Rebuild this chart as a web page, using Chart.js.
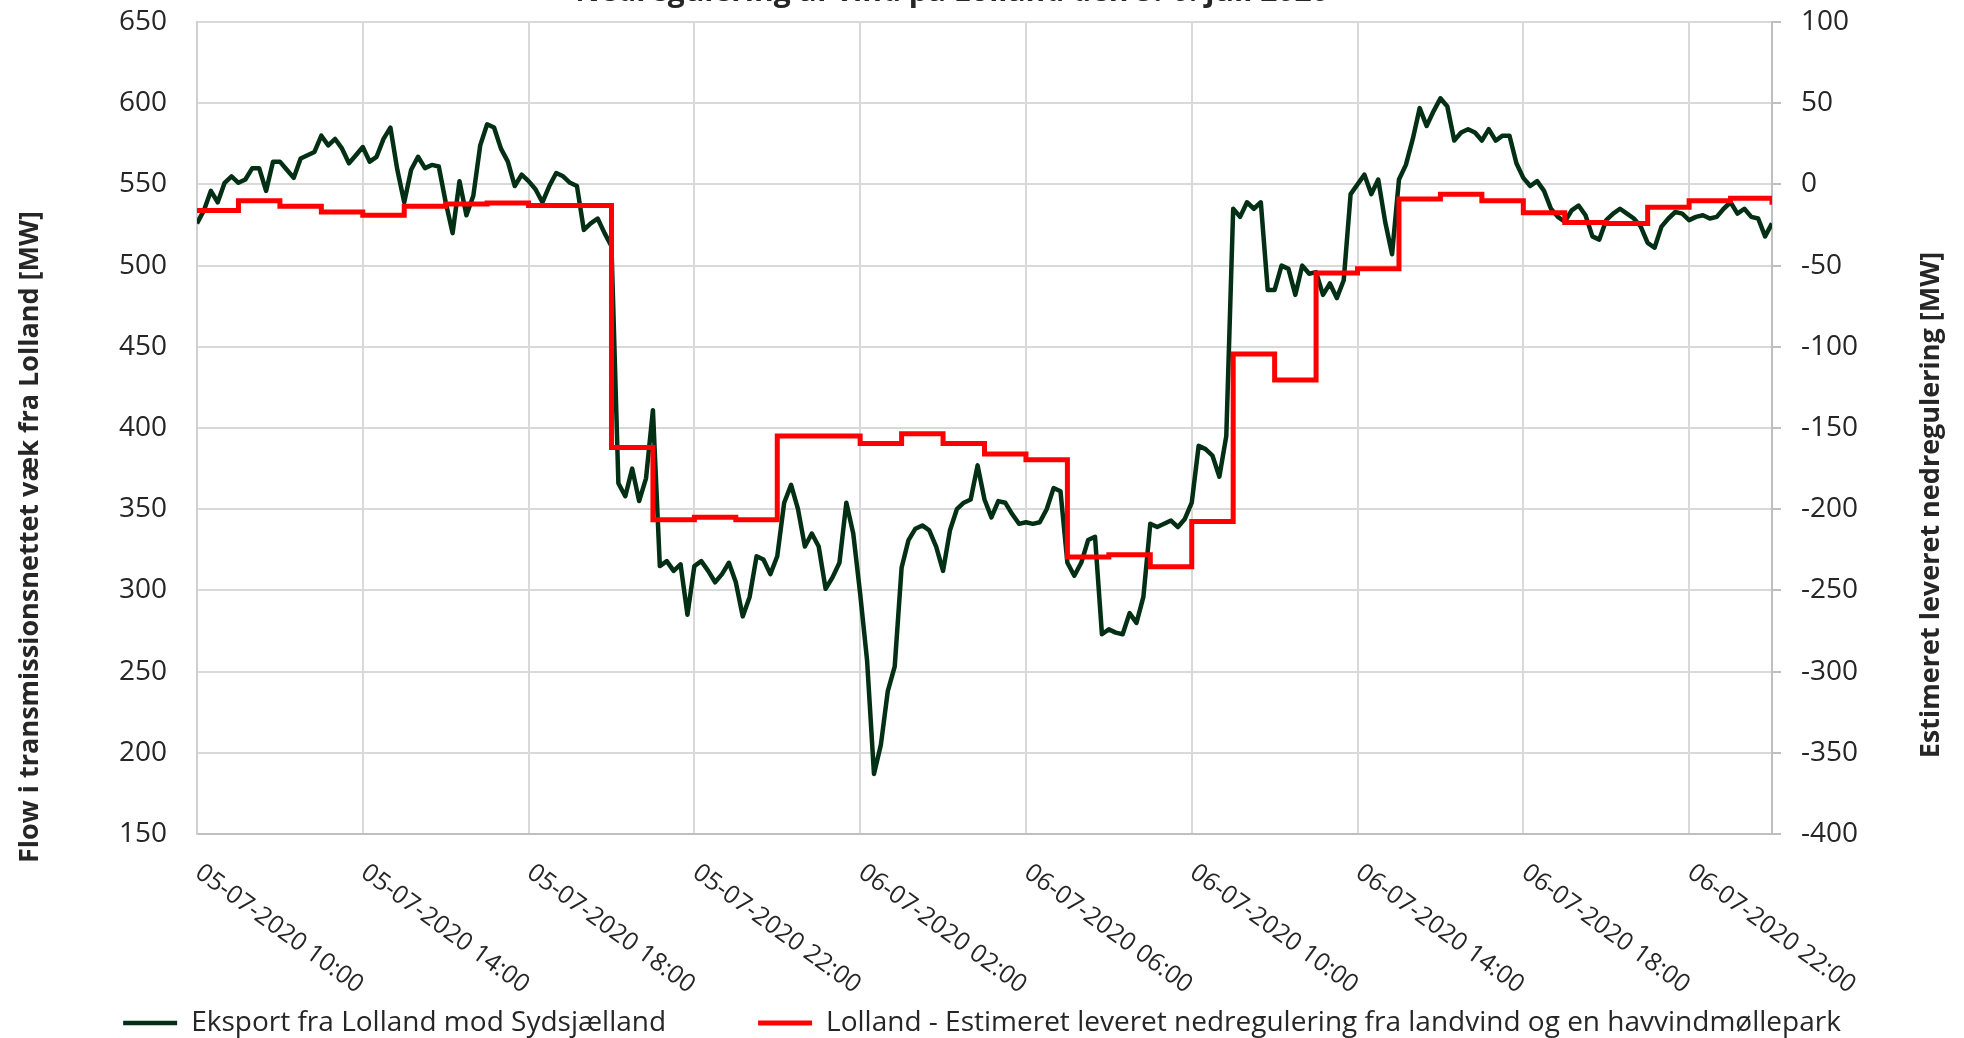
<!DOCTYPE html>
<html lang="da">
<head>
  <meta charset="UTF-8">
  <title>Nedregulering Lolland</title>
  <style>
    html, body { margin: 0; padding: 0; background: #fff; }
    #wrap { width: 1964px; height: 1038px; }
  </style>
  <script src="https://cdn.jsdelivr.net/npm/chart.js@4.4.1/dist/chart.umd.min.js"></script>
</head>
<body>
  <div id="wrap"><canvas id="flowChart"></canvas></div>
  <script>
    // green series: one reading every 10 minutes from 05-07-2020 10:00
    const eksportStepMin = 10
    const eksport = [
      526, 534, 546, 539, 551, 555, 551, 553, 560, 560,
      546, 564, 564, 559, 554, 566, 568, 570, 580, 574,
      578, 572, 563, 568, 573, 564, 567, 578, 585, 559,
      539, 559, 567, 560, 562, 561, 539, 520, 552, 531,
      543, 574, 587, 585, 572, 564, 549, 556, 552, 547,
      539, 549, 557, 555, 551, 549, 522, 526, 529, 520,
      512, 366, 358, 375, 355, 369, 411, 315, 318, 312,
      316, 285, 315, 318, 312, 305, 310, 317, 305, 284,
      296, 321, 319, 310, 321, 354, 365, 350, 327, 335,
      327, 301, 308, 317, 354, 335, 298, 257, 187, 205,
      238, 253, 314, 331, 338, 340, 337, 327, 312, 337,
      350, 354, 356, 377, 356, 345, 355, 354, 347, 341,
      342, 341, 342, 350, 363, 361, 317, 309, 317, 331,
      333, 273, 276, 274, 273, 286, 280, 296, 341, 339,
      341, 343, 339, 344, 354, 389, 387, 383, 370, 395,
      535, 530, 539, 535, 539, 485, 485, 500, 498, 482,
      500, 495, 496, 482, 489, 480, 491, 544, 550, 556,
      544, 553, 527, 507, 553, 562, 578, 597, 586, 595,
      603, 598, 577, 582, 584, 582, 577, 584, 577, 580,
      580, 563, 554, 549, 552, 546, 535, 530, 527, 534,
      537, 531, 518, 516, 528, 532, 535, 532, 529, 524,
      514, 511, 524, 529, 533, 532, 528, 530, 531, 529,
      530, 535, 539, 532, 535, 530, 529, 518, 526
    ]

    // red series: hourly value, hour 0 = 05-07-2020 10:00, last entry is the end point
    const nedregulering = [
      -16, -10, -13.5, -17, -19, -13.5, -12, -11.5, -13, -13,
      -162, -206.5, -205, -206.5, -155, -155, -159.5, -153.5, -159.5, -166,
      -169.5, -229.5, -228, -235.5, -207.5, -104.5, -120.5, -54.5, -52, -9,
      -6, -10, -17.5, -23.5, -24, -14, -10, -8.5, -12.5
    ]

    const xTickHours = [0, 4, 8, 12, 16, 20, 24, 28, 32, 36]
    const xTickLabels = [
      "05-07-2020 10:00", "05-07-2020 14:00", "05-07-2020 18:00", "05-07-2020 22:00",
      "06-07-2020 02:00", "06-07-2020 06:00", "06-07-2020 10:00", "06-07-2020 14:00",
      "06-07-2020 18:00", "06-07-2020 22:00"
    ]

    const titleText = "Nedregulering af vind på Lolland den 5.-6. juli 2020"
    const leftTitle = "Flow i transmissionsnettet væk fra Lolland [MW]"
    const rightTitle = "Estimeret leveret nedregulering [MW]"
    const seriesNames = [
      "Eksport fra Lolland mod Sydsjælland",
      "Lolland - Estimeret leveret nedregulering fra landvind og en havvindmøllepark"
    ]

    const textColor = "#262626"
    const font = '"Open Sans"'
    Chart.defaults.font.family = font
    Chart.defaults.color = textColor

    // rotated x labels, axis titles and the clipped chart title
    const textPlugin = {
      id: "texts",
      afterDraw(chart) {
        const ctx = chart.ctx
        const xs = chart.scales.x
        const bottom = chart.chartArea.bottom
        ctx.save()
        ctx.fillStyle = textColor
        ctx.font = "25px " + font
        ctx.textAlign = "left"
        ctx.textBaseline = "middle"
        xTickHours.forEach((h, i) => {
          ctx.save()
          ctx.translate(xs.getPixelForValue(h) + 1, bottom + 36)
          ctx.rotate(36 * Math.PI / 180)
          ctx.fillText(xTickLabels[i], 0, 0)
          ctx.restore()
        })

        ctx.font = "bold 27px " + font
        ctx.textAlign = "center"
        ctx.save()
        ctx.translate(30, 537)
        ctx.rotate(-Math.PI / 2)
        ctx.fillText(leftTitle, 0, 0)
        ctx.restore()
        ctx.save()
        ctx.translate(1931, 505)
        ctx.rotate(-Math.PI / 2)
        ctx.fillText(rightTitle, 0, 0)
        ctx.restore()

        ctx.font = "bold 30px " + font
        ctx.textBaseline = "alphabetic"
        ctx.fillText(titleText, 952, 1)
        ctx.restore()
      }
    }

    // fixed axis widths, and no extra label padding above/below the plot
    const fitWidth = (w) => (scale) => {
      scale.width = w
      scale.paddingTop = 0
      scale.paddingBottom = 0
    }

    const data = {
      datasets: [
        {
          label: seriesNames[0],
          data: eksport.map((v, i) => ({ x: i * eksportStepMin / 60, y: v })),
          yAxisID: "y",
          borderColor: "#033014",
          backgroundColor: "#033014",
          borderWidth: 4.5,
          borderJoinStyle: "round",
          pointRadius: 0,
          tension: 0,
          order: 1
        },
        {
          label: seriesNames[1],
          data: nedregulering.map((v, i) => ({ x: i, y: v })),
          yAxisID: "y1",
          borderColor: "#ff0000",
          backgroundColor: "#ff0000",
          borderWidth: 5,
          pointRadius: 0,
          stepped: "before",
          order: 0
        }
      ]
    }

    const config = {
      type: "line",
      data,
      plugins: [textPlugin],
      options: {
        responsive: true,
        maintainAspectRatio: false,
        animation: false,
        layout: { padding: { top: 22, left: 0, right: 0, bottom: -9 }, autoPadding: false },
        plugins: {
          title: { display: false },
          tooltip: { enabled: false },
          legend: {
            position: "bottom",
            labels: {
              usePointStyle: true,
              pointStyle: "line",
              pointStyleWidth: 54,
              boxHeight: 5,
              padding: 92,
              color: textColor,
              font: { size: 28 },
              sort: (a, b) => a.datasetIndex - b.datasetIndex
            }
          }
        },
        scales: {
          x: {
            type: "linear",
            min: 0,
            max: 38,
            afterBuildTicks: (scale) => { scale.ticks = xTickHours.map(v => ({ value: v })) },
            afterFit: (scale) => { scale.height = 83 },
            ticks: { display: false },
            grid: { color: "#d9d9d9", lineWidth: 2, drawTicks: false },
            border: { color: "#bfbfbf", width: 2 }
          },
          y: {
            position: "left",
            min: 150,
            max: 650,
            afterFit: fitWidth(197),
            ticks: { stepSize: 50, padding: 30, font: { size: 28 }, color: textColor },
            grid: { color: "#d9d9d9", lineWidth: 2, drawTicks: false },
            border: { color: "#d0d0d0", width: 2 }
          },
          y1: {
            position: "right",
            min: -400,
            max: 100,
            afterFit: fitWidth(192),
            ticks: { stepSize: 50, padding: 20, font: { size: 28 }, color: textColor },
            grid: { drawOnChartArea: false, color: "#bfbfbf", lineWidth: 2, tickLength: 9 },
            border: { color: "#bfbfbf", width: 2 }
          }
        }
      }
    }

    new Chart(document.getElementById("flowChart"), config)
  </script>
</body>
</html>
